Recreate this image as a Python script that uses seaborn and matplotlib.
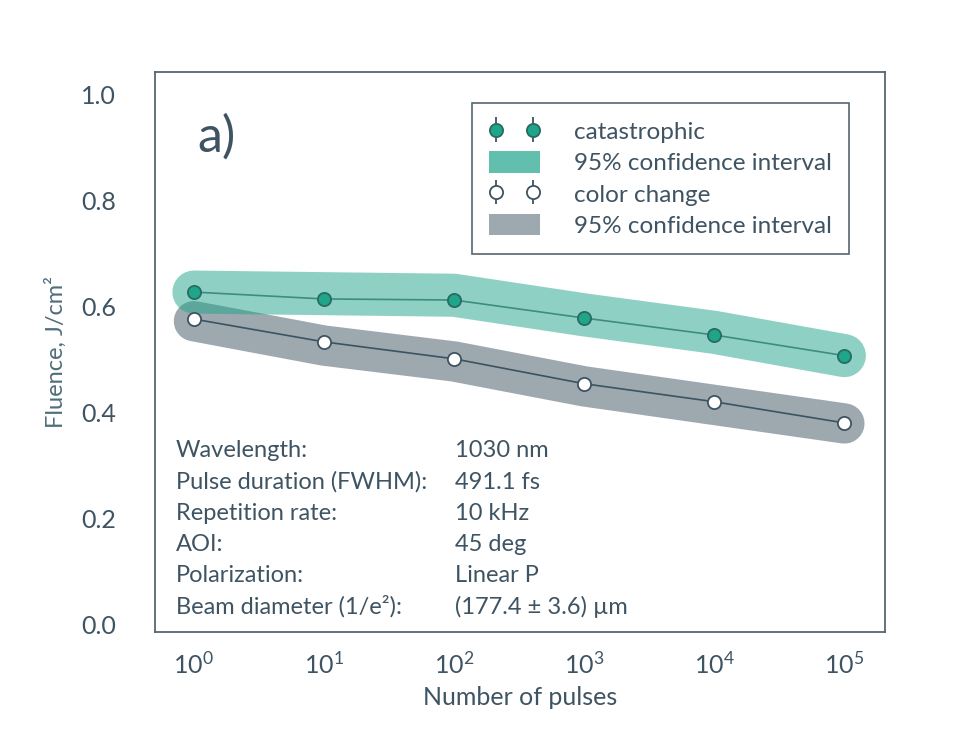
import numpy as np
import pandas as pd
import seaborn as sns
import matplotlib.pyplot as plt
from matplotlib.patches import Patch

# values
pulses = [1, 10, 100, 1000, 10000, 100000]
catastrophic = [0.628, 0.615, 0.613, 0.579, 0.547, 0.508]
color_change = [0.577, 0.534, 0.502, 0.455, 0.421, 0.381]
# centre lines of the 95% confidence bands
ci_catastrophic = [0.628, 0.625, 0.622, 0.585, 0.552, 0.508]
ci_color_change = [0.573, 0.527, 0.497, 0.450, 0.415, 0.380]

params = ["Wavelength:", "Pulse duration (FWHM):", "Repetition rate:", "AOI:",
          "Polarization:", "Beam diameter (1/e²):"]
param_values = ["1030 nm", "491.1 fs", "10 kHz", "45 deg", "Linear P",
                "(177.4 ± 3.6) µm"]

TEAL = "#1fa58a"
SLATE = "#3d5361"
TEXT = "#3f5463"

sns.set_style("white")
plt.rcParams['font.family'] = ['Lato', 'DejaVu Sans']
plt.rcParams['mathtext.fontset'] = 'custom'
plt.rcParams['mathtext.rm'] = 'Lato'
plt.rcParams['mathtext.it'] = 'Lato'

df = pd.DataFrame({"pulses": pulses, "catastrophic": catastrophic,
                   "color_change": color_change,
                   "ci_cat": ci_catastrophic, "ci_cc": ci_color_change})

fig = plt.figure(figsize=(9.68, 7.52), dpi=100)
ax = fig.add_axes([0.160, 0.160, 0.754, 0.744])

# confidence bands as thick rounded strokes
ax.plot(df["pulses"], df["ci_cc"], color=SLATE, alpha=0.5, lw=29,
        solid_capstyle="round", solid_joinstyle="round", zorder=1)
ax.plot(df["pulses"], df["ci_cat"], color=TEAL, alpha=0.5, lw=31,
        solid_capstyle="round", solid_joinstyle="round", zorder=2)

sns.lineplot(data=df, x="pulses", y="catastrophic", ax=ax, color="#3e8c80",
             lw=1.2, marker="o", markersize=9.5, markerfacecolor=TEAL,
             markeredgecolor="#2b6a62", markeredgewidth=1.3, zorder=4)
sns.lineplot(data=df, x="pulses", y="color_change", ax=ax, color=SLATE,
             lw=1.2, marker="o", markersize=9.5, markerfacecolor="white",
             markeredgecolor=SLATE, markeredgewidth=1.3, zorder=4)

ax.set_xscale("log")
ax.set_xlim(10 ** -0.3, 10 ** 5.31)
ax.set_ylim(-0.013, 1.043)
ax.set_xticks(pulses)
ax.set_xticklabels([r"$\mathregular{10^{%d}}$" % i for i in range(6)])
ax.minorticks_off()
ax.set_yticks([0.0, 0.2, 0.4, 0.6, 0.8, 1.0])
ax.set_yticklabels(["0.0", "0.2", "0.4", "0.6", "0.8", "1.0"])
ax.tick_params(length=0, labelsize=18, colors=TEXT, pad=14)
ax.tick_params(axis="y", pad=28)

ax.set_xlabel("Number of pulses", fontsize=18, color=TEXT, labelpad=6)
ax.set_ylabel("Fluence, J/cm²", fontsize=17, color="#4f6d7a", labelpad=10)

for s in ax.spines.values():
    s.set_color("#56666f")
    s.set_linewidth(1.3)

ax.text(0.058, 0.884, "a)", transform=ax.transAxes, fontsize=36,
        color=TEXT, va="center", ha="left")

for i, (p, v) in enumerate(zip(params, param_values)):
    y = 0.323 - i * 0.0557
    ax.text(0.029, y, p, transform=ax.transAxes, fontsize=17, color=TEXT,
            va="center", ha="left")
    ax.text(0.411, y, v, transform=ax.transAxes, fontsize=17, color=TEXT,
            va="center", ha="left")

# legend handles
h_cat = ax.errorbar([], [], yerr=[], fmt="o", markersize=9.5,
                    markerfacecolor=TEAL, markeredgecolor="#2b6a62",
                    markeredgewidth=1.3, ecolor="#3d5361", elinewidth=1.3)
h_cc = ax.errorbar([], [], yerr=[], fmt="o", markersize=9.5,
                   markerfacecolor="white", markeredgecolor=SLATE,
                   markeredgewidth=1.3, ecolor=SLATE, elinewidth=1.3)
p_cat = Patch(facecolor=TEAL, alpha=0.7, edgecolor="none")
p_cc = Patch(facecolor=SLATE, alpha=0.5, edgecolor="none")

leg = ax.legend([h_cat, p_cat, h_cc, p_cc],
                ["catastrophic", "95% confidence interval", "color change",
                 "95% confidence interval"],
                loc="upper right", bbox_to_anchor=(0.951, 0.945),
                borderaxespad=0, fontsize=17.5, numpoints=2, handlelength=2.1,
                handleheight=1.0, handletextpad=1.4, labelspacing=0.33,
                borderpad=0.7, fancybox=False, framealpha=1,
                edgecolor="#56666f", labelcolor=TEXT)
leg.get_frame().set_linewidth(1.2)

fig.savefig("out.png", dpi=100, facecolor="white")
